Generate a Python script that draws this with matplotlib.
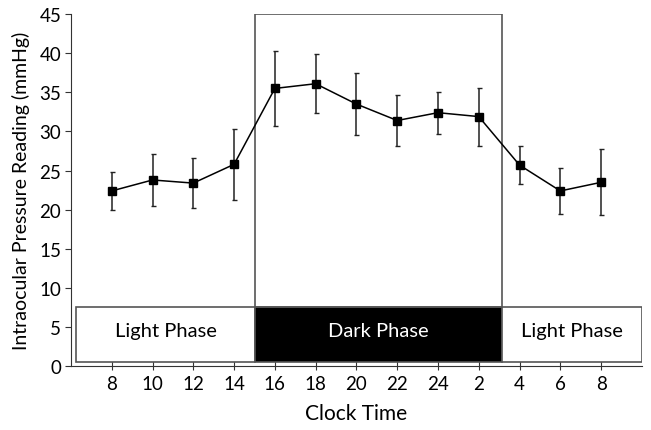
import matplotlib
matplotlib.use('Agg')
import matplotlib.pyplot as plt
from matplotlib.patches import Rectangle

plt.rcParams['font.family'] = ['Lato', 'DejaVu Sans']

# ============================================================
# Data
# ============================================================
clock_labels = ['8', '10', '12', '14', '16', '18', '20', '22', '24', '2', '4', '6', '8']
iop_mean = [22.4, 23.8, 23.4, 25.8, 35.5, 36.1, 33.5, 31.4, 32.4, 31.9, 25.7, 22.4, 23.5]
iop_err = [2.4, 3.3, 3.2, 4.5, 4.8, 3.8, 4.0, 3.2, 2.7, 3.7, 2.4, 2.9, 4.2]

phase_names = ['Light Phase', 'Dark Phase', 'Light Phase']
phase_bounds = [0.12, 4.52, 10.56, 14.0]
phase_colors = ['white', 'black', 'white']
phase_text_colors = ['black', 'white', 'black']
phase_ymin, phase_ymax = 0.6, 7.6

xpos = list(range(1, len(clock_labels) + 1))

fig = plt.figure(figsize=(6.51, 4.31), dpi=100)
ax = fig.add_axes([0.109, 0.148, 0.877, 0.817])

# phase bar at bottom
for i, name in enumerate(phase_names):
    x0, x1 = phase_bounds[i], phase_bounds[i + 1]
    ax.add_patch(Rectangle((x0, phase_ymin), x1 - x0, phase_ymax - phase_ymin,
                           facecolor=phase_colors[i], edgecolor='#555555',
                           linewidth=1.2, zorder=1))
    ax.text((x0 + x1) / 2, (phase_ymin + phase_ymax) / 2 + 0.4, name,
            ha='center', va='center', fontsize=14.5,
            color=phase_text_colors[i], zorder=2)

# outline of the dark period
ax.add_patch(Rectangle((phase_bounds[1], phase_ymax), phase_bounds[2] - phase_bounds[1],
                       45 - phase_ymax, facecolor='none', edgecolor='#555555',
                       linewidth=1.2, zorder=1))

ax.errorbar(xpos, iop_mean, yerr=iop_err, color='black', linewidth=1.1,
            marker='s', markersize=5.5, elinewidth=1.1, capsize=1.8,
            capthick=1.0, ecolor='#222222', zorder=3)

ax.set_xlim(0, 14)
ax.set_ylim(0, 45)
ax.set_xticks(xpos)
ax.set_xticklabels(clock_labels)
ax.set_yticks(range(0, 50, 5))
ax.spines['top'].set_visible(False)
ax.spines['right'].set_visible(False)
for s in ['left', 'bottom']:
    ax.spines[s].set_color('#333333')
ax.tick_params(axis='both', labelsize=13.5, length=4, color='#333333')
ax.tick_params(axis='y', direction='out', pad=3)
ax.tick_params(axis='x', direction='inout', length=6, pad=3)
ax.set_xlabel('Clock Time', fontsize=15, labelpad=8)
ax.set_ylabel('Intraocular Pressure Reading (mmHg)', fontsize=14, labelpad=7)

fig.savefig('out.png', dpi=100, facecolor='white')
